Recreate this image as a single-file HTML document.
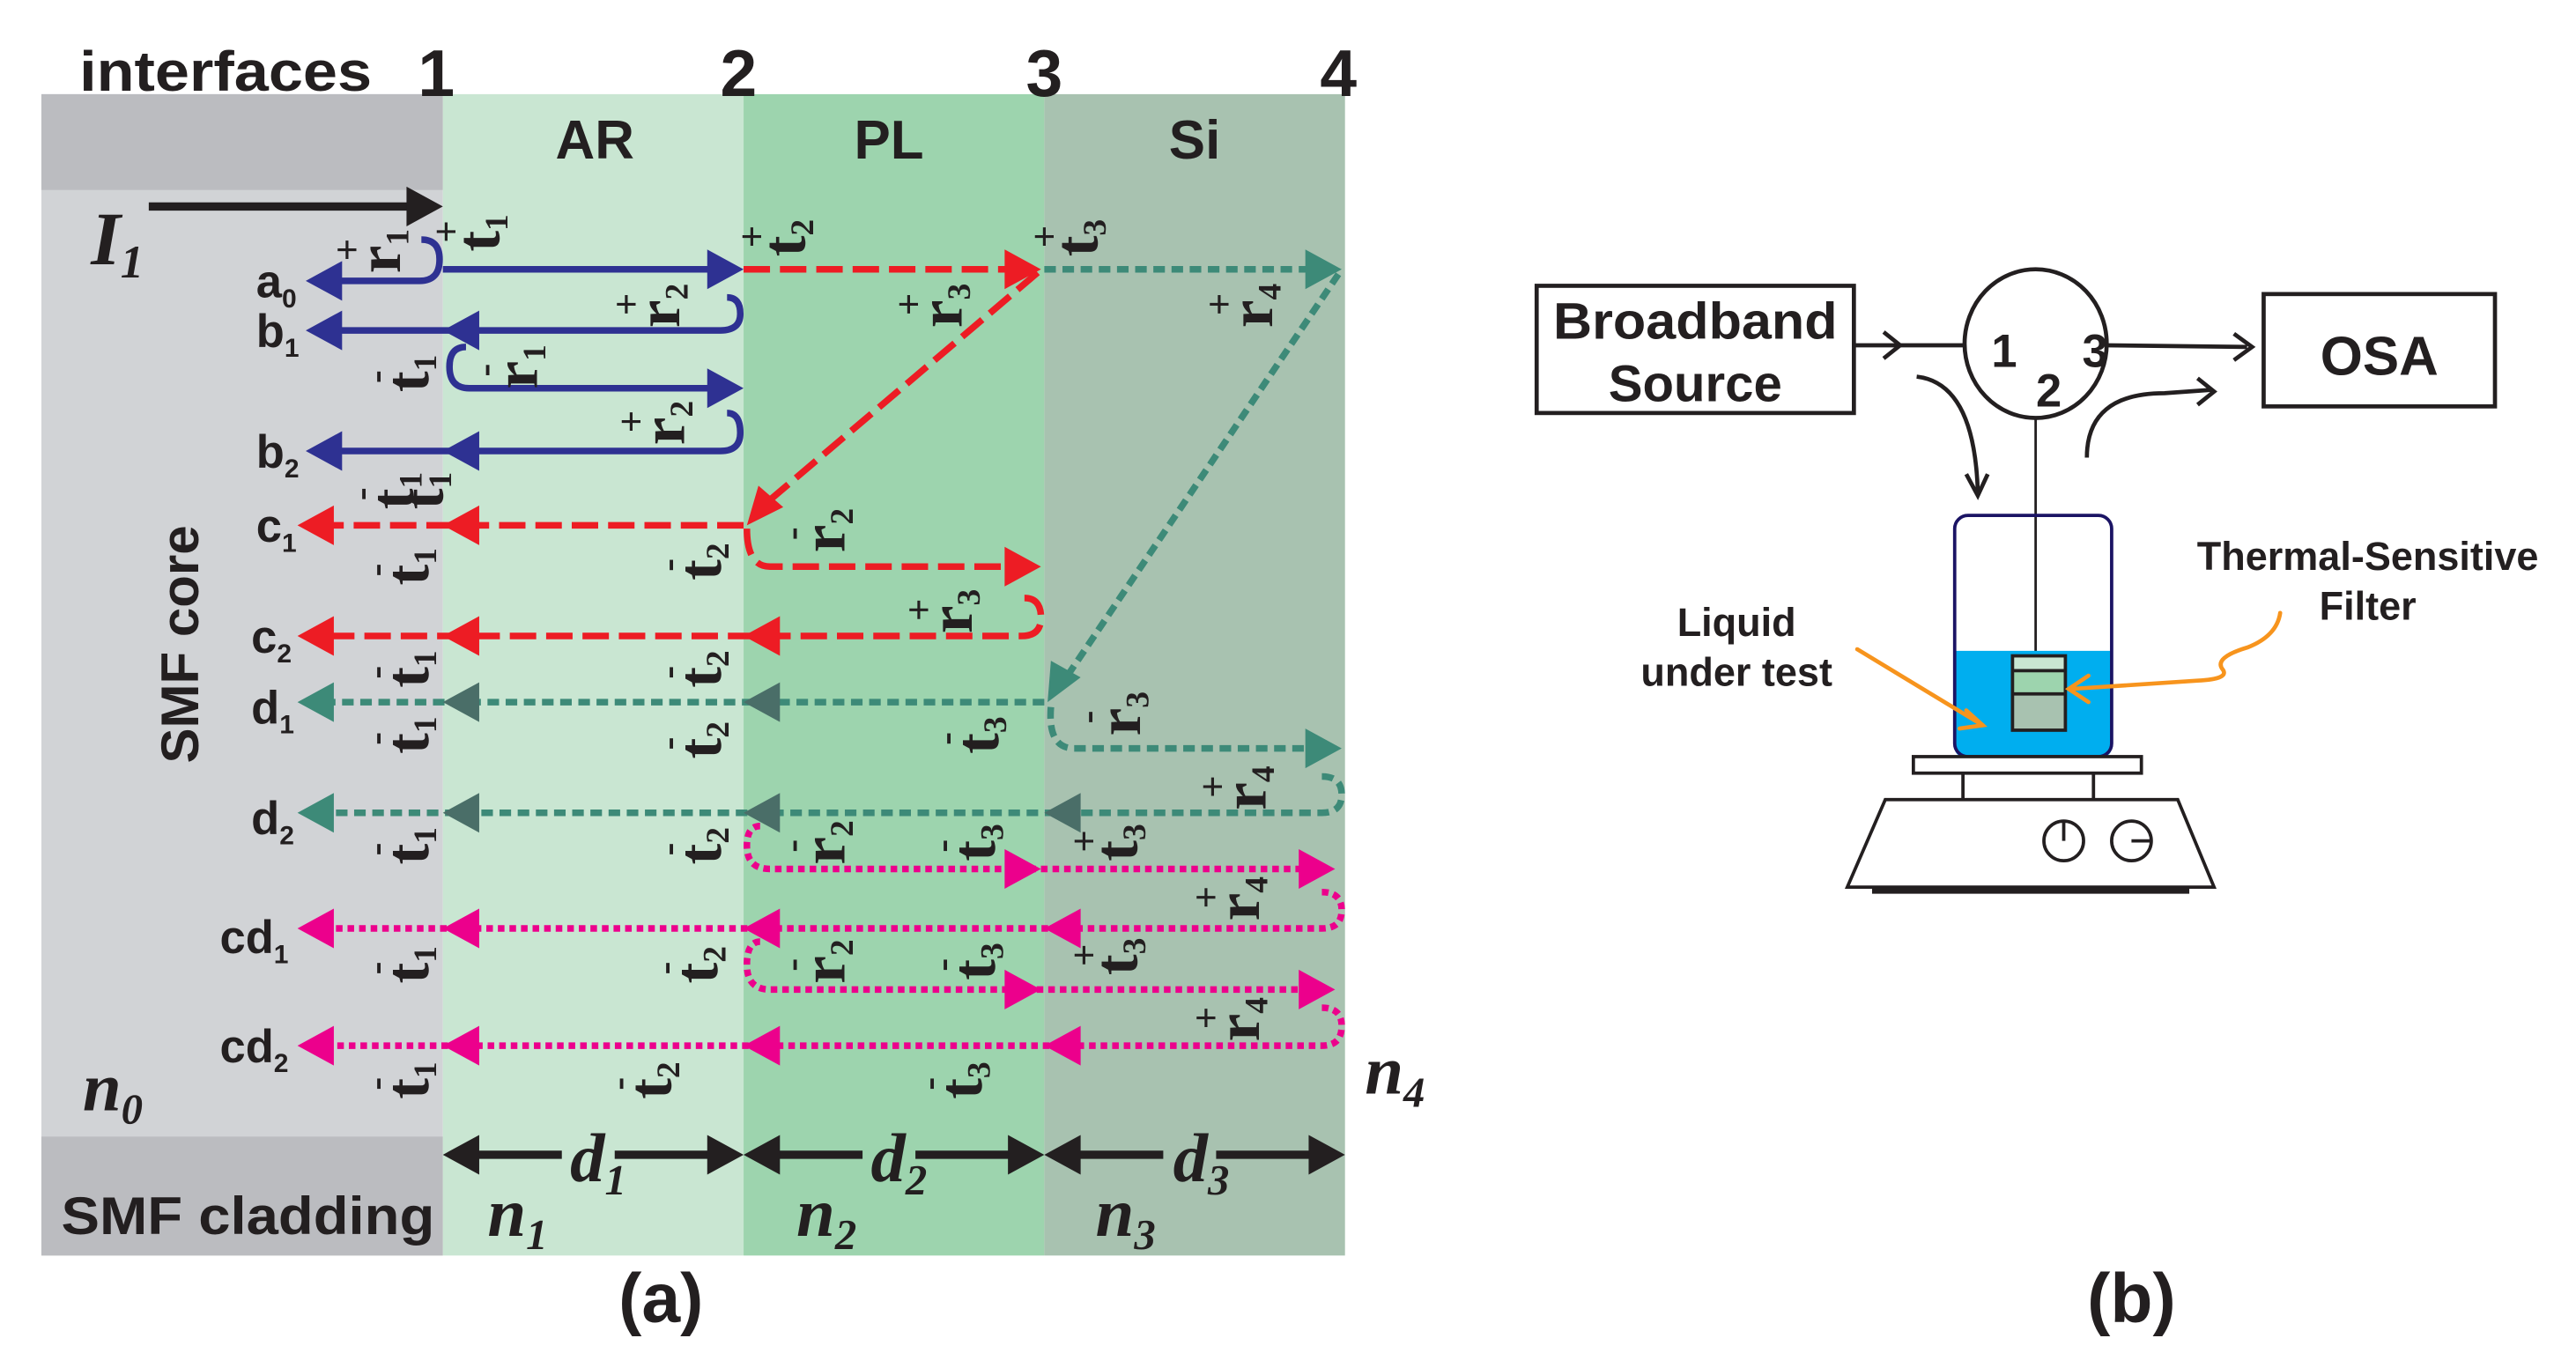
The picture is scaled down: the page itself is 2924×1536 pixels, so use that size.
<!DOCTYPE html>
<html><head><meta charset="utf-8"><style>
html,body{margin:0;padding:0;background:#fff;}
svg{display:block;}
.b{font-family:"Liberation Sans",sans-serif;font-weight:bold;fill:#231f20;}
.s{font-family:"Liberation Serif",serif;font-weight:bold;font-style:italic;fill:#231f20;}
.lb{font-family:"Liberation Serif",serif;font-weight:bold;fill:#231f20;font-size:38px;}
</style></head><body>
<svg width="2924" height="1536" viewBox="0 0 1559 819" xmlns="http://www.w3.org/2000/svg">
<defs>
<g id="hl"><polygon points="0,0 22,-12 22,12"/></g>
<g id="hr"><polygon points="0,0 -22,-12 -22,12"/></g>
</defs>
<rect x="25" y="57" width="243" height="703" fill="#d1d3d6"/>
<rect x="25" y="57" width="243" height="58" fill="#bbbcc0"/>
<rect x="25" y="688" width="243" height="72" fill="#bbbcc0"/>
<rect x="268" y="57" width="182" height="703" fill="#c9e6d2"/>
<rect x="450" y="57" width="182" height="703" fill="#9dd4ae"/>
<rect x="632" y="57" width="182" height="703" fill="#a8c2b0"/>
<text class="b" x="48" y="55" font-size="34" textLength="177" lengthAdjust="spacingAndGlyphs">interfaces</text>
<text class="b" x="264" y="58" font-size="40" text-anchor="middle">1</text>
<text class="b" x="447" y="58" font-size="40" text-anchor="middle">2</text>
<text class="b" x="632" y="58" font-size="40" text-anchor="middle">3</text>
<text class="b" x="810" y="58" font-size="40" text-anchor="middle">4</text>
<text class="b" x="360" y="96" font-size="33" text-anchor="middle">AR</text>
<text class="b" x="538" y="96" font-size="33" text-anchor="middle">PL</text>
<text class="b" x="723" y="96" font-size="33" text-anchor="middle">Si</text>
<text class="s" x="55" y="160" font-size="46">I<tspan font-size="28" dy="8">1</tspan></text>
<text class="s" x="50" y="672" font-size="42">n<tspan font-size="26" dy="8">0</tspan></text>
<text class="s" x="826" y="662" font-size="42">n<tspan font-size="26" dy="8">4</tspan></text>
<text class="s" x="295" y="748" font-size="42">n<tspan font-size="26" dy="8">1</tspan></text>
<text class="s" x="482" y="748" font-size="42">n<tspan font-size="26" dy="8">2</tspan></text>
<text class="s" x="663" y="748" font-size="42">n<tspan font-size="26" dy="8">3</tspan></text>
<text class="s" x="345" y="715" font-size="42">d<tspan font-size="26" dy="8">1</tspan></text>
<text class="s" x="527" y="715" font-size="42">d<tspan font-size="26" dy="8">2</tspan></text>
<text class="s" x="710" y="715" font-size="42">d<tspan font-size="26" dy="8">3</tspan></text>
<text class="b" x="37" y="747" font-size="32" textLength="226" lengthAdjust="spacingAndGlyphs">SMF cladding</text>
<text class="b" font-size="32" transform="translate(120,390) rotate(-90)" text-anchor="middle">SMF core</text>
<g class="b" font-size="28">
<text x="155" y="180">a<tspan font-size="16" dy="6">0</tspan></text>
<text x="155" y="210">b<tspan font-size="16" dy="6">1</tspan></text>
<text x="155" y="283">b<tspan font-size="16" dy="6">2</tspan></text>
<text x="155" y="328">c<tspan font-size="16" dy="6">1</tspan></text>
<text x="152" y="395">c<tspan font-size="16" dy="6">2</tspan></text>
<text x="152" y="438">d<tspan font-size="16" dy="6">1</tspan></text>
<text x="152" y="505">d<tspan font-size="16" dy="6">2</tspan></text>
<text x="133" y="577">cd<tspan font-size="16" dy="6">1</tspan></text>
<text x="133" y="643">cd<tspan font-size="16" dy="6">2</tspan></text>
</g>
<g fill="#231f20" stroke="#231f20" stroke-width="5">
<line x1="285" y1="699" x2="340" y2="699"/><line x1="372" y1="699" x2="432" y2="699"/>
<line x1="467" y1="699" x2="522" y2="699"/><line x1="554" y1="699" x2="614" y2="699"/>
<line x1="649" y1="699" x2="704" y2="699"/><line x1="736" y1="699" x2="796" y2="699"/>
</g>
<g fill="#231f20">
<use href="#hl" x="268" y="699"/><use href="#hr" x="450" y="699"/>
<use href="#hl" x="450" y="699"/><use href="#hr" x="632" y="699"/>
<use href="#hl" x="632" y="699"/><use href="#hr" x="814" y="699"/>
</g>
<line x1="90" y1="125" x2="250" y2="125" stroke="#231f20" stroke-width="5"/>
<use href="#hr" x="268" y="125" fill="#231f20"/>
<g stroke="#2e3192" stroke-width="4" fill="none">
<line x1="268" y1="163" x2="432" y2="163"/>
<path d="M255 145 Q266 145 266 157 Q266 170 254 170 L200 170"/>
<path d="M440 180 Q448 180 448 190 Q448 200 436 200 L200 200"/>
<path d="M282 210 Q272 210 272 222 Q272 235 284 235 L432 235"/>
<path d="M440 250 Q448 250 448 262 Q448 273 436 273 L200 273"/>
</g>
<g fill="#2e3192">
<use href="#hr" x="450" y="163"/><use href="#hl" x="185" y="170"/>
<use href="#hl" x="185" y="200"/><use href="#hl" x="268" y="200"/>
<use href="#hr" x="450" y="235"/>
<use href="#hl" x="185" y="273"/><use href="#hl" x="268" y="273"/>
</g>
<g stroke="#ed1c24" stroke-width="4" fill="none" stroke-dasharray="16,6">
<line x1="450" y1="163" x2="612" y2="163"/>
<line x1="628" y1="165" x2="462" y2="306"/>
<line x1="450" y1="318" x2="196" y2="318"/>
<path d="M452 320 Q452 343 466 343 L612 343"/>
<path d="M620 362 Q630 362 630 374 Q630 385 618 385 L196 385"/>
</g>
<g fill="#ed1c24">
<use href="#hr" x="630" y="163"/><use href="#hl" x="180" y="318"/><use href="#hl" x="268" y="318"/>
<polygon points="452,318 459,294 474,307"/>
<use href="#hr" x="630" y="343"/>
<use href="#hl" x="180" y="385"/><use href="#hl" x="268" y="385"/><use href="#hl" x="450" y="385"/>
</g>
<g stroke="#3d8a78" stroke-width="4" fill="none" stroke-dasharray="7,4">
<line x1="632" y1="163" x2="794" y2="163"/>
<line x1="810" y1="166" x2="644" y2="412"/>
<line x1="632" y1="425" x2="196" y2="425"/>
<path d="M636 428 Q634 453 650 453 L794 453"/>
<path d="M800 470 Q812 470 812 481 Q812 492 800 492 L196 492"/>
</g>
<g fill="#3d8a78">
<use href="#hr" x="812" y="163"/>
<polygon points="634,425 636,400 654,410"/>
<use href="#hl" x="180" y="425"/><use href="#hl" x="268" y="425" fill="#4a6e68"/><use href="#hl" x="450" y="425" fill="#4a6e68"/>
<use href="#hr" x="812" y="453"/>
<use href="#hl" x="180" y="492"/><use href="#hl" x="268" y="492" fill="#4a6e68"/><use href="#hl" x="450" y="492" fill="#4a6e68"/><use href="#hl" x="632" y="492" fill="#4a6e68"/>
</g>
<g stroke="#ec008c" stroke-width="4" fill="none" stroke-dasharray="4,3">
<path d="M460 500 Q452 500 452 512 Q452 526 466 526 L792 526"/>
<path d="M800 540 Q812 540 812 551 Q812 562 800 562 L196 562"/>
<path d="M460 570 Q452 570 452 584 Q452 599 466 599 L792 599"/>
<path d="M800 610 Q812 610 812 621 Q812 633 800 633 L196 633"/>
</g>
<g fill="#ec008c">
<use href="#hr" x="630" y="526"/><use href="#hr" x="808" y="526"/>
<use href="#hl" x="180" y="562"/><use href="#hl" x="268" y="562"/><use href="#hl" x="450" y="562"/><use href="#hl" x="632" y="562"/>
<use href="#hr" x="630" y="599"/><use href="#hr" x="808" y="599"/>
<use href="#hl" x="180" y="633"/><use href="#hl" x="268" y="633"/><use href="#hl" x="450" y="633"/><use href="#hl" x="632" y="633"/>
</g>
<g class="lb">
<g transform="translate(242,152) rotate(-90)"><text text-anchor="middle">r<tspan font-size="20" dy="5">1</tspan></text><text x="-6" y="-24" font-size="24">+</text></g>
<g transform="translate(302,141) rotate(-90)"><text text-anchor="middle">t<tspan font-size="20" dy="5">1</tspan></text><text x="-6" y="-24" font-size="24">+</text></g>
<g transform="translate(487,144) rotate(-90)"><text text-anchor="middle">t<tspan font-size="20" dy="5">2</tspan></text><text x="-6" y="-24" font-size="24">+</text></g>
<g transform="translate(664,144) rotate(-90)"><text text-anchor="middle">t<tspan font-size="20" dy="5">3</tspan></text><text x="-6" y="-24" font-size="24">+</text></g>
<g transform="translate(411,185) rotate(-90)"><text text-anchor="middle">r<tspan font-size="20" dy="5">2</tspan></text><text x="-6" y="-24" font-size="24">+</text></g>
<g transform="translate(582,185) rotate(-90)"><text text-anchor="middle">r<tspan font-size="20" dy="5">3</tspan></text><text x="-6" y="-24" font-size="24">+</text></g>
<g transform="translate(770,185) rotate(-90)"><text text-anchor="middle">r<tspan font-size="20" dy="5">4</tspan></text><text x="-6" y="-24" font-size="24">+</text></g>
<g transform="translate(259,226) rotate(-90)"><text text-anchor="middle">t<tspan font-size="20" dy="5">1</tspan></text><text x="-6" y="-24" font-size="24">-</text></g>
<g transform="translate(325,222) rotate(-90)"><text text-anchor="middle">r<tspan font-size="20" dy="5">1</tspan></text><text x="-6" y="-24" font-size="24">-</text></g>
<g transform="translate(414,256) rotate(-90)"><text text-anchor="middle">r<tspan font-size="20" dy="5">2</tspan></text><text x="-6" y="-24" font-size="24">+</text></g>
<g transform="translate(250,297) rotate(-90)"><text text-anchor="middle">t<tspan font-size="20" dy="5">1</tspan></text><text x="-6" y="-24" font-size="24">-</text></g>
<g transform="translate(268,297) rotate(-90)"><text text-anchor="middle">t<tspan font-size="20" dy="5">1</tspan></text></g>
<g transform="translate(259,343) rotate(-90)"><text text-anchor="middle">t<tspan font-size="20" dy="5">1</tspan></text><text x="-6" y="-24" font-size="24">-</text></g>
<g transform="translate(436,340) rotate(-90)"><text text-anchor="middle">t<tspan font-size="20" dy="5">2</tspan></text><text x="-6" y="-24" font-size="24">-</text></g>
<g transform="translate(511,321) rotate(-90)"><text text-anchor="middle">r<tspan font-size="20" dy="5">2</tspan></text><text x="-6" y="-24" font-size="24">-</text></g>
<g transform="translate(588,370) rotate(-90)"><text text-anchor="middle">r<tspan font-size="20" dy="5">3</tspan></text><text x="-6" y="-24" font-size="24">+</text></g>
<g transform="translate(259,405) rotate(-90)"><text text-anchor="middle">t<tspan font-size="20" dy="5">1</tspan></text><text x="-6" y="-24" font-size="24">-</text></g>
<g transform="translate(436,405) rotate(-90)"><text text-anchor="middle">t<tspan font-size="20" dy="5">2</tspan></text><text x="-6" y="-24" font-size="24">-</text></g>
<g transform="translate(259,445) rotate(-90)"><text text-anchor="middle">t<tspan font-size="20" dy="5">1</tspan></text><text x="-6" y="-24" font-size="24">-</text></g>
<g transform="translate(436,448) rotate(-90)"><text text-anchor="middle">t<tspan font-size="20" dy="5">2</tspan></text><text x="-6" y="-24" font-size="24">-</text></g>
<g transform="translate(604,445) rotate(-90)"><text text-anchor="middle">t<tspan font-size="20" dy="5">3</tspan></text><text x="-6" y="-24" font-size="24">-</text></g>
<g transform="translate(690,432) rotate(-90)"><text text-anchor="middle">r<tspan font-size="20" dy="5">3</tspan></text><text x="-6" y="-24" font-size="24">-</text></g>
<g transform="translate(766,477) rotate(-90)"><text text-anchor="middle">r<tspan font-size="20" dy="5">4</tspan></text><text x="-6" y="-24" font-size="24">+</text></g>
<g transform="translate(259,512) rotate(-90)"><text text-anchor="middle">t<tspan font-size="20" dy="5">1</tspan></text><text x="-6" y="-24" font-size="24">-</text></g>
<g transform="translate(436,512) rotate(-90)"><text text-anchor="middle">t<tspan font-size="20" dy="5">2</tspan></text><text x="-6" y="-24" font-size="24">-</text></g>
<g transform="translate(511,510) rotate(-90)"><text text-anchor="middle">r<tspan font-size="20" dy="5">2</tspan></text><text x="-6" y="-24" font-size="24">-</text></g>
<g transform="translate(602,510) rotate(-90)"><text text-anchor="middle">t<tspan font-size="20" dy="5">3</tspan></text><text x="-6" y="-24" font-size="24">-</text></g>
<g transform="translate(688,510) rotate(-90)"><text text-anchor="middle">t<tspan font-size="20" dy="5">3</tspan></text><text x="-6" y="-24" font-size="24">+</text></g>
<g transform="translate(762,544) rotate(-90)"><text text-anchor="middle">r<tspan font-size="20" dy="5">4</tspan></text><text x="-6" y="-24" font-size="24">+</text></g>
<g transform="translate(259,584) rotate(-90)"><text text-anchor="middle">t<tspan font-size="20" dy="5">1</tspan></text><text x="-6" y="-24" font-size="24">-</text></g>
<g transform="translate(434,584) rotate(-90)"><text text-anchor="middle">t<tspan font-size="20" dy="5">2</tspan></text><text x="-6" y="-24" font-size="24">-</text></g>
<g transform="translate(511,582) rotate(-90)"><text text-anchor="middle">r<tspan font-size="20" dy="5">2</tspan></text><text x="-6" y="-24" font-size="24">-</text></g>
<g transform="translate(602,582) rotate(-90)"><text text-anchor="middle">t<tspan font-size="20" dy="5">3</tspan></text><text x="-6" y="-24" font-size="24">-</text></g>
<g transform="translate(688,579) rotate(-90)"><text text-anchor="middle">t<tspan font-size="20" dy="5">3</tspan></text><text x="-6" y="-24" font-size="24">+</text></g>
<g transform="translate(762,617) rotate(-90)"><text text-anchor="middle">r<tspan font-size="20" dy="5">4</tspan></text><text x="-6" y="-24" font-size="24">+</text></g>
<g transform="translate(259,654) rotate(-90)"><text text-anchor="middle">t<tspan font-size="20" dy="5">1</tspan></text><text x="-6" y="-24" font-size="24">-</text></g>
<g transform="translate(406,654) rotate(-90)"><text text-anchor="middle">t<tspan font-size="20" dy="5">2</tspan></text><text x="-6" y="-24" font-size="24">-</text></g>
<g transform="translate(594,654) rotate(-90)"><text text-anchor="middle">t<tspan font-size="20" dy="5">3</tspan></text><text x="-6" y="-24" font-size="24">-</text></g>
</g>
<text class="b" x="400" y="800" font-size="42" text-anchor="middle">(a)</text>
<text class="b" x="1290" y="800" font-size="42" text-anchor="middle">(b)</text>

<g stroke="#231f20" stroke-width="2.5" fill="none">
<rect x="930" y="173" width="192" height="77"/>
<rect x="1370" y="178" width="140" height="68"/>
<ellipse cx="1232" cy="208" rx="43" ry="45"/>
<line x1="1122" y1="209" x2="1189" y2="209"/>
<polyline points="1140,201 1150,209 1140,217"/>
<line x1="1275" y1="209" x2="1360" y2="210"/>
<polyline points="1352,202 1363,210 1352,218"/>
<path d="M1160 228 Q1195 232 1197 298"/>
<polyline points="1190,287 1197,300 1203,287"/>
<path d="M1263 277 Q1263 238 1310 238 L1338 236"/>
<polyline points="1330,229 1340,237 1330,245"/>
<line x1="1232" y1="254" x2="1232" y2="397" stroke-width="1.5"/>
</g>
<text class="b" x="1026" y="205" font-size="31" text-anchor="middle" textLength="172" lengthAdjust="spacingAndGlyphs">Broadband</text>
<text class="b" x="1026" y="243" font-size="31" text-anchor="middle">Source</text>
<text class="b" x="1440" y="227" font-size="33" text-anchor="middle">OSA</text>
<text class="b" x="1213" y="222" font-size="28" text-anchor="middle">1</text>
<text class="b" x="1240" y="246" font-size="28" text-anchor="middle">2</text>
<text class="b" x="1268" y="222" font-size="28" text-anchor="middle">3</text>
<path d="M1183 394 L1278 394 L1278 452 Q1278 458 1272 458 L1189 458 Q1183 458 1183 452 Z" fill="#00aeef"/>
<rect x="1183" y="312" width="95" height="146" rx="8" fill="none" stroke="#1b1464" stroke-width="2"/>
<rect x="1218" y="397" width="32" height="9" fill="#c9e6d2"/>
<rect x="1218" y="406" width="32" height="14" fill="#9dd4ae"/>
<rect x="1218" y="420" width="32" height="22" fill="#a8c2b0"/>
<g stroke="#231f20" stroke-width="2" fill="none">
<rect x="1218" y="397" width="32" height="45"/>
<line x1="1218" y1="406" x2="1250" y2="406"/><line x1="1218" y1="420" x2="1250" y2="420"/>
<rect x="1158" y="458" width="138" height="10" fill="#fff"/>
<line x1="1188" y1="468" x2="1188" y2="484"/><line x1="1267" y1="468" x2="1267" y2="484"/>
<polygon points="1141,484 1318,484 1340,537 1118,537" fill="#fff"/>
<circle cx="1249" cy="509" r="12"/><circle cx="1290" cy="509" r="12"/>
<line x1="1249" y1="497" x2="1249" y2="509"/><line x1="1290" y1="509" x2="1302" y2="509"/>
</g>
<rect x="1133" y="537" width="192" height="4" fill="#231f20"/>
<g stroke="#f7941d" stroke-width="2.5" fill="none" stroke-linecap="round">
<line x1="1124" y1="393" x2="1200" y2="439"/>
<polyline points="1190,430 1200,439 1186,441"/>
<path d="M1380 371 Q1378 385 1360 392 Q1340 398 1345 405 Q1350 411 1330 412 L1254 417"/>
<polyline points="1264,409 1252,417 1264,425"/>
</g>
<text class="b" x="1433" y="345" font-size="24" text-anchor="middle">Thermal-Sensitive</text>
<text class="b" x="1433" y="375" font-size="24" text-anchor="middle">Filter</text>
<text class="b" x="1051" y="385" font-size="24" text-anchor="middle">Liquid</text>
<text class="b" x="1051" y="415" font-size="24" text-anchor="middle">under test</text>
</svg>
</body></html>
